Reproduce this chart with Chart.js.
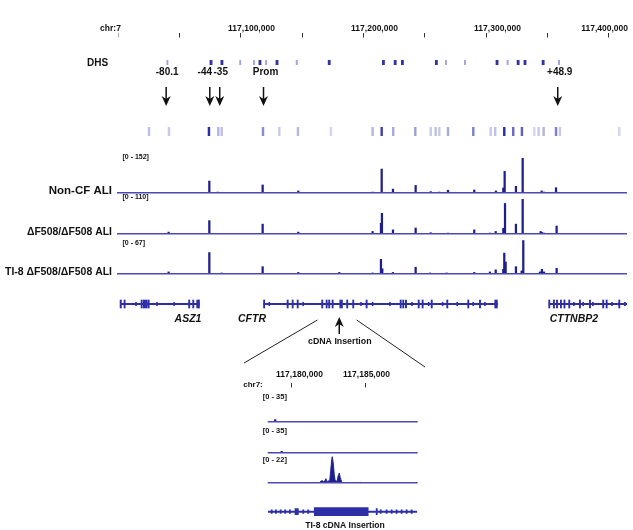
<!DOCTYPE html>
<html>
<head>
<meta charset="utf-8">
<script src="https://cdn.jsdelivr.net/npm/chart.js@4.4.1/dist/chart.umd.min.js"></script>
<style>
  html, body { margin: 0; padding: 0; background: #fff; }
  #fig { position: relative; width: 633px; height: 530px; overflow: hidden; background: #fff; }
  #fig canvas { position: absolute; left: 0; }
</style>
</head>
<body>
<div id="fig"></div>
<script>
// ---------- data (genomic positions in kb on chr7, hg19) ----------
const rulerTicks = [117000, 117050, 117100, 117150, 117200, 117250, 117300, 117350, 117400];
const rulerLabels = ['chr:7', '', '117,100,000', '', '117,200,000', '', '117,300,000', '', '117,400,000'];

const dhsPos = [117040.4, 117076.0, 117084.9, 117099.8, 117111.0, 117115.9, 117120.9, 117129.8, 117145.9, 117172.4,
                117216.6, 117226.2, 117232.1, 117259.8, 117267.7, 117283.2, 117309.3, 117317.9, 117326.5, 117332.1,
                117346.9, 117359.8];
const dhsStrong = [0, 1, 1, 0, 0, 1, 0, 1, 0, 1, 1, 1, 1, 1, 0, 0, 1, 0, 1, 1, 1, 0];

const elementNames = ['-80.1', '-44', '-35', 'Prom', '+48.9'];
const elementPos = [117039.4, 117075.0, 117083.1, 117118.8, 117358.8];

const bandPos = [117025.4, 117041.7, 117074.3, 117081.9, 117084.7, 117118.4, 117131.7, 117146.9, 117173.8, 117207.8,
                 117215.2, 117224.6, 117242.6, 117255.2, 117259.2, 117262.2, 117269.3, 117289.9, 117304.1, 117307.8,
                 117315.2, 117322.5, 117329.6, 117339.7, 117343.2, 117347.3, 117357.4, 117360.6, 117409.0];
const bandLevel = [0.3, 0.25, 1, 0.35, 0.3, 0.55, 0.25, 0.35, 0.2, 0.35,
                   0.9, 0.4, 0.45, 0.25, 0.3, 0.25, 0.4, 0.6, 0.25, 0.3,
                   1, 0.7, 0.75, 0.2, 0.25, 0.35, 0.6, 0.25, 0.2];

const trackNames = ['Non-CF ALI', '\u0394F508/\u0394F508 ALI', 'TI-8 \u0394F508/\u0394F508 ALI'];
const trackMax = [152, 110, 67];

const nonCfPos = [117025.6, 117041.4, 117074.6, 117081.4, 117118.1, 117147.2, 117207.8, 117215.2, 117224.4, 117242.9,
                  117255.2, 117261.9, 117269.3, 117290.7, 117303.5, 117308.4, 117314.4, 117315.5, 117324.7, 117330.2,
                  117342.9, 117345.7, 117347.6, 117357.4];
const nonCfVal = [2, 2, 52, 4, 35, 9, 4, 104, 17, 33, 6, 4, 12, 13, 3, 9, 22, 94, 29, 151, 3, 9, 4, 23];

const dfPos = [117041.4, 117074.6, 117082.5, 117118.1, 117147.2, 117171.6, 117207.8, 117214.6, 117215.4, 117224.4,
               117242.9, 117255.2, 117261.9, 117269.3, 117290.7, 117303.5, 117308.2, 117314.4, 117315.8, 117324.7,
               117330.2, 117344.9, 117345.9, 117347.6, 117357.9];
const dfVal = [6, 42, 2, 31, 6, 1, 8, 34, 65, 13, 19, 4, 2, 3, 13, 3, 8, 18, 96, 31, 109, 8, 5, 3, 25];

const ti8Pos = [117025.6, 117041.4, 117074.6, 117084.7, 117118.1, 117147.2, 117180.6, 117207.8, 117214.6, 117215.7,
                117224.4, 117242.9, 117254.6, 117268.2, 117290.7, 117303.5, 117308.2, 117314.4, 117315.2, 117316.3,
                117324.7, 117329.4, 117330.7, 117342.9, 117344.3, 117345.9, 117347.6, 117357.9];
const ti8Val = [1, 4, 41, 2, 14, 3, 3, 2, 28, 10, 3, 13, 2, 2, 3, 4, 8, 9, 40, 23, 14, 6, 64, 1, 4, 9, 4, 11];

const geneNames = ['ASZ1', 'CFTR', 'CTTNBP2'];
const geneNamePos = [117057.2, 117109.4, 117372.0];
const geneSpans = [[117002.3, 117066.4], [117119.2, 117309.6], [117351.9, 117416.0]];
const geneExons = [
  [117001.8, 117002.9], [117005.0, 117006.0], [117018.9, 117019.9], [117020.7, 117024.0], [117024.6, 117025.6],
  [117057.7, 117058.7], [117061.0, 117062.0], [117064.3, 117065.3], [117065.6, 117066.6],
  [117118.8, 117119.8], [117138.0, 117139.0], [117142.1, 117143.1], [117146.2, 117147.2], [117166.2, 117167.2],
  [117169.8, 117170.8], [117171.9, 117172.9], [117174.7, 117175.7], [117181.0, 117183.2], [117186.6, 117187.6],
  [117191.5, 117192.5], [117202.4, 117203.4], [117230.2, 117231.2], [117232.3, 117233.3], [117234.5, 117235.5],
  [117244.9, 117245.9], [117248.1, 117249.1], [117255.5, 117256.5], [117268.2, 117269.2], [117285.3, 117286.3],
  [117294.9, 117295.9], [117307.4, 117309.6],
  [117351.4, 117352.4], [117355.2, 117356.2], [117357.7, 117358.7], [117360.9, 117361.9], [117363.8, 117364.8],
  [117367.7, 117368.7], [117376.4, 117377.4], [117384.6, 117385.6], [117395.4, 117396.4], [117398.2, 117399.2],
  [117408.5, 117409.5]
];
const geneMarks = [117014.8, 117031.9, 117045.8, 117123.5, 117151.2, 117198.3, 117207.8, 117221.9, 117239.9, 117253.5,
                   117264.9, 117276.8, 117289.9, 117299.4, 117372.0, 117379.6, 117387.5, 117403.0, 117413.6];
const cdnaPos = 117180.6;
const zoomFrom = [117162.8, 117194.8];

// inset (cDNA insertion window)
const insetTicks = [117180, 117185];
const insetTickLabels = ['117,180,000', '117,185,000'];
const insetMax = [35, 35, 22];
const inset1Pos = [117178.93];
const inset1Val = [3];
const inset2Pos = [117179.37];
const inset2Val = [2];
const inset3Pos = [117181.10, 117181.17, 117181.24, 117181.90, 117182.04, 117182.15, 117182.25, 117182.37, 117182.47, 117182.56,
                   117182.62, 117182.69, 117182.76, 117182.80, 117182.87, 117182.94, 117183.00, 117183.05, 117183.12, 117183.19,
                   117183.28, 117183.34, 117183.45, 117183.52, 117183.58, 117183.65, 117184.68, 117184.73, 117184.78, 117185.04,
                   117185.09, 117185.14];
const inset3Val = [0, 0.8, 0, 0, 1.6, 1.8, 0.6, 3.4, 0.8, 1.8,
                   1.2, 9.2, 18.3, 20.7, 15.7, 6.5, 1.8, 2.0, 1.0, 5.2,
                   7.9, 4.5, 0.4, 0, 0.8, 0, 0, 0.5, 0, 0,
                   0.5, 0];
const insetGeneSpan = [117178.46, 117188.54];
const insetSmallExons = [[117180.27, 117180.50], [117185.78, 117185.86]];
const insetCds = [[117181.58, 117185.24]];
const insetGeneMarks = [117178.69, 117178.98, 117179.30, 117179.61, 117179.93, 117180.83, 117181.17,
                        117186.09, 117186.49, 117186.83, 117187.17, 117187.51, 117187.85, 117188.19];

// ---------- layout / style ----------
const W = 633;
const mainRange = [116999.3, 117415.3];
const mainPad = { left: 117, right: 6 };
const insetRange = [117178.42, 117188.60];
const insetPad = { left: 267.7, right: 215.3 };
const INK = '#111';
const SIG = '#1f1f8c';
const BASE = '#4a4ab2';
const GENE = '#2e2ea6';
const FONT = 'Arial, "Liberation Sans", Helvetica, sans-serif';

const fig = document.getElementById('fig');

function addCanvas(top, height) {
  const c = document.createElement('canvas');
  c.width = W;
  c.height = height;
  c.style.top = top + 'px';
  c.style.width = W + 'px';
  c.style.height = height + 'px';
  fig.appendChild(c);
  return c;
}

function baseOptions(range, pad, top, bottom) {
  return {
    responsive: false,
    animation: false,
    devicePixelRatio: 1,
    events: [],
    layout: { padding: { left: pad.left, right: pad.right, top: top || 0, bottom: bottom || 0 } },
    plugins: { legend: { display: false }, tooltip: { enabled: false } },
    scales: {
      x: { type: 'linear', min: range[0], max: range[1], display: false, offset: false },
      y: { display: false }
    }
  };
}

function text(ctx, s, x, y, size, align, style, maxW) {
  ctx.font = (style || 'bold') + ' ' + size + 'px ' + FONT;
  ctx.textAlign = align || 'center';
  ctx.textBaseline = 'middle';
  ctx.fillStyle = INK;
  if (maxW) ctx.fillText(s, x, y, maxW);
  else ctx.fillText(s, x, y);
}

function arrow(ctx, x, y0, tip, dir) {
  ctx.strokeStyle = INK;
  ctx.lineWidth = 1.5;
  ctx.beginPath();
  ctx.moveTo(x, y0);
  ctx.lineTo(x, tip - dir * 6);
  ctx.stroke();
  ctx.fillStyle = INK;
  ctx.beginPath();
  ctx.moveTo(x, tip);
  ctx.lineTo(x - 4.5, tip - dir * 10);
  ctx.lineTo(x, tip - dir * 7);
  ctx.lineTo(x + 4.5, tip - dir * 10);
  ctx.closePath();
  ctx.fill();
}

// ---------- ruler, DHS label, element arrows ----------
new Chart(addCanvas(0, 112), {
  type: 'line',
  data: { datasets: [] },
  options: baseOptions(mainRange, mainPad),
  plugins: [{
    id: 'ruler',
    afterDraw(chart) {
      const ctx = chart.ctx, sx = chart.scales.x;
      ctx.save();
      rulerTicks.forEach((t, i) => {
        const x = Math.round(sx.getPixelForValue(t)) + 0.5;
        ctx.strokeStyle = i === 0 ? '#aaa' : '#333';
        ctx.lineWidth = 1;
        ctx.beginPath();
        ctx.moveTo(x, 33);
        ctx.lineTo(x, 37.5);
        ctx.stroke();
        if (rulerLabels[i]) {
          ctx.font = 'bold 8.5px ' + FONT;
          const w = ctx.measureText(rulerLabels[i]).width;
          let cx = x + (i === 0 ? -8 : 11);
          cx = Math.min(cx, 628 - w / 2);
          text(ctx, rulerLabels[i], cx, 28.3, 8.5);
        }
      });
      text(ctx, 'DHS', 97.5, 63, 10);
      const shift = [1, -5, 1, 2, 2];
      elementNames.forEach((n, i) => {
        const x = sx.getPixelForValue(elementPos[i]);
        text(ctx, n, x + shift[i], 72.7, 10);
        arrow(ctx, x, 87, 106, 1);
      });
      ctx.restore();
    }
  }]
});

// ---------- DHS marks ----------
(function () {
  const strong = [], weak = [];
  dhsPos.forEach((p, i) => (dhsStrong[i] ? strong : weak).push({ x: p, y: [0, 1] }));
  const opts = baseOptions(mainRange, mainPad);
  opts.scales.y = { display: false, min: 0, max: 1 };
  new Chart(addCanvas(60, 5), {
    type: 'bar',
    data: {
      datasets: [
        { data: weak, backgroundColor: '#a3a3da', barThickness: 1.3, grouped: false },
        { data: strong, backgroundColor: '#34349e', barThickness: 2.2, grouped: false }
      ]
    },
    options: opts
  });
})();

// ---------- regulatory band ----------
(function () {
  const opts = baseOptions(mainRange, mainPad);
  opts.scales.y = { display: false, min: 0, max: 1 };
  new Chart(addCanvas(127, 9), {
    type: 'bar',
    data: {
      datasets: [{
        data: bandPos.map(p => ({ x: p, y: [0, 1] })),
        backgroundColor: bandLevel.map(l => 'rgba(45,45,165,' + l + ')'),
        barThickness: 1.8
      }]
    },
    options: opts
  });
})();

// ---------- signal tracks ----------
const trackDeco = {
  id: 'trackDeco',
  afterDatasetsDraw(chart, args, o) {
    const ctx = chart.ctx, a = chart.chartArea;
    ctx.save();
    ctx.strokeStyle = BASE;
    ctx.lineWidth = 1.4;
    ctx.beginPath();
    ctx.moveTo(a.left, a.bottom - 0.3);
    ctx.lineTo(a.right, a.bottom - 0.3);
    ctx.stroke();
    text(ctx, o.range, o.rangeX, o.rangeY - o.top, o.rangeSize, 'left');
    if (o.name) text(ctx, o.name, a.left - 5, o.nameY - o.top, 11.5, 'right', 'bold', o.nameW);
    ctx.restore();
  }
};

function signalTrack(cfg) {
  const top = cfg.baseline - cfg.height - 7;
  const opts = baseOptions(cfg.range, cfg.pad, 7, 1);
  opts.scales.y = { display: false, min: 0, max: cfg.max };
  opts.plugins.trackDeco = {
    top: top, range: cfg.label, rangeX: cfg.rangeX, rangeY: cfg.rangeY, rangeSize: cfg.rangeSize,
    name: cfg.name, nameY: cfg.baseline - 2, nameW: cfg.nameW
  };
  const points = cfg.pos.map((p, i) => ({ x: p, y: cfg.val[i] }));
  const ds = cfg.area
    ? { data: points, borderColor: SIG, backgroundColor: SIG, borderWidth: 0.9, pointRadius: 0, fill: 'origin', tension: 0 }
    : { data: points, backgroundColor: SIG, barThickness: 1.6 };
  new Chart(addCanvas(top, cfg.height + 8), {
    type: cfg.area ? 'line' : 'bar',
    data: { datasets: [ds] },
    options: opts,
    plugins: [trackDeco]
  });
}

const mainBaselines = [193, 234, 274];
const mainRangeY = [157.3, 197.3, 242.7];
const nameWidths = [64, 85, 107];
[[nonCfPos, nonCfVal], [dfPos, dfVal], [ti8Pos, ti8Val]].forEach((t, i) => {
  signalTrack({
    baseline: mainBaselines[i], height: 35, range: mainRange, pad: mainPad,
    pos: t[0], val: t[1], max: trackMax[i],
    label: '[0 - ' + trackMax[i] + ']', rangeX: 122.5, rangeY: mainRangeY[i], rangeSize: 7,
    name: trackNames[i], nameW: nameWidths[i]
  });
});

// ---------- gene models + zoom connectors ----------
(function () {
  const opts = baseOptions(mainRange, mainPad, 0, 52);
  opts.indexAxis = 'y';
  opts.scales.y = { type: 'category', display: false };
  new Chart(addCanvas(290, 80), {
    type: 'bar',
    data: {
      labels: ['g'],
      datasets: [
        { data: geneSpans.map(s => ({ x: s, y: 'g' })), backgroundColor: GENE, barThickness: 1.2, grouped: false },
        { data: geneMarks.map(p => ({ x: [p - 0.4, p + 0.4], y: 'g' })), backgroundColor: GENE, barThickness: 3.5, grouped: false },
        { data: geneExons.map(s => ({ x: s, y: 'g' })), backgroundColor: GENE, barThickness: 8, grouped: false }
      ]
    },
    options: opts,
    plugins: [{
      id: 'geneDeco',
      afterDraw(chart) {
        const ctx = chart.ctx, sx = chart.scales.x;
        ctx.save();
        geneNames.forEach((n, i) => text(ctx, n, sx.getPixelForValue(geneNamePos[i]), 29, 10.5, 'center', 'italic bold'));
        const xc = sx.getPixelForValue(cdnaPos);
        arrow(ctx, xc, 44, 27, -1);
        text(ctx, 'cDNA Insertion', xc + 0.5, 52, 8.8);
        ctx.strokeStyle = '#222';
        ctx.lineWidth = 1;
        ctx.beginPath();
        ctx.moveTo(sx.getPixelForValue(zoomFrom[0]), 30);
        ctx.lineTo(244, 73);
        ctx.moveTo(sx.getPixelForValue(zoomFrom[1]), 30);
        ctx.lineTo(425, 77);
        ctx.stroke();
        ctx.restore();
      }
    }]
  });
})();

// ---------- inset ruler ----------
new Chart(addCanvas(365, 26), {
  type: 'line',
  data: { datasets: [] },
  options: baseOptions(insetRange, insetPad),
  plugins: [{
    id: 'insetRuler',
    afterDraw(chart) {
      const ctx = chart.ctx, sx = chart.scales.x;
      ctx.save();
      const shift = [8, 1];
      insetTicks.forEach((t, i) => {
        const x = Math.round(sx.getPixelForValue(t)) + 0.5;
        ctx.strokeStyle = '#333';
        ctx.lineWidth = 1;
        ctx.beginPath();
        ctx.moveTo(x, 18);
        ctx.lineTo(x, 22.5);
        ctx.stroke();
        text(ctx, insetTickLabels[i], x + shift[i], 9.7, 8.5);
      });
      text(ctx, 'chr7:', 253, 20, 8);
      ctx.restore();
    }
  }]
});

// ---------- inset tracks ----------
const insetBaselines = [422.3, 452.7, 483.3];
const insetRangeY = [397.7, 430.3, 460.3];
[[inset1Pos, inset1Val], [inset2Pos, inset2Val], [inset3Pos, inset3Val]].forEach((t, i) => {
  signalTrack({
    baseline: insetBaselines[i], height: 28, range: insetRange, pad: insetPad,
    pos: t[0], val: t[1], max: insetMax[i], area: i === 2,
    label: '[0 - ' + insetMax[i] + ']', rangeX: 262.7, rangeY: insetRangeY[i], rangeSize: 7.5
  });
});

// ---------- inset gene model ----------
(function () {
  const opts = baseOptions(insetRange, insetPad, 0, 6.6);
  opts.indexAxis = 'y';
  opts.scales.y = { type: 'category', display: false };
  new Chart(addCanvas(500, 30), {
    type: 'bar',
    data: {
      labels: ['g'],
      datasets: [
        { data: [{ x: insetGeneSpan, y: 'g' }], backgroundColor: GENE, barThickness: 1.3, grouped: false },
        { data: insetGeneMarks.map(p => ({ x: [p - 0.04, p + 0.04], y: 'g' })), backgroundColor: GENE, barThickness: 3.5, grouped: false },
        { data: insetSmallExons.map(s => ({ x: s, y: 'g' })), backgroundColor: GENE, barThickness: 6, grouped: false },
        { data: insetCds.map(s => ({ x: s, y: 'g' })), backgroundColor: GENE, barThickness: 8, grouped: false }
      ]
    },
    options: opts,
    plugins: [{
      id: 'insetGeneDeco',
      afterDraw(chart) {
        text(chart.ctx, 'TI-8 cDNA Insertion', 345, 25.7, 8.6);
      }
    }]
  });
})();
</script>
</body>
</html>
